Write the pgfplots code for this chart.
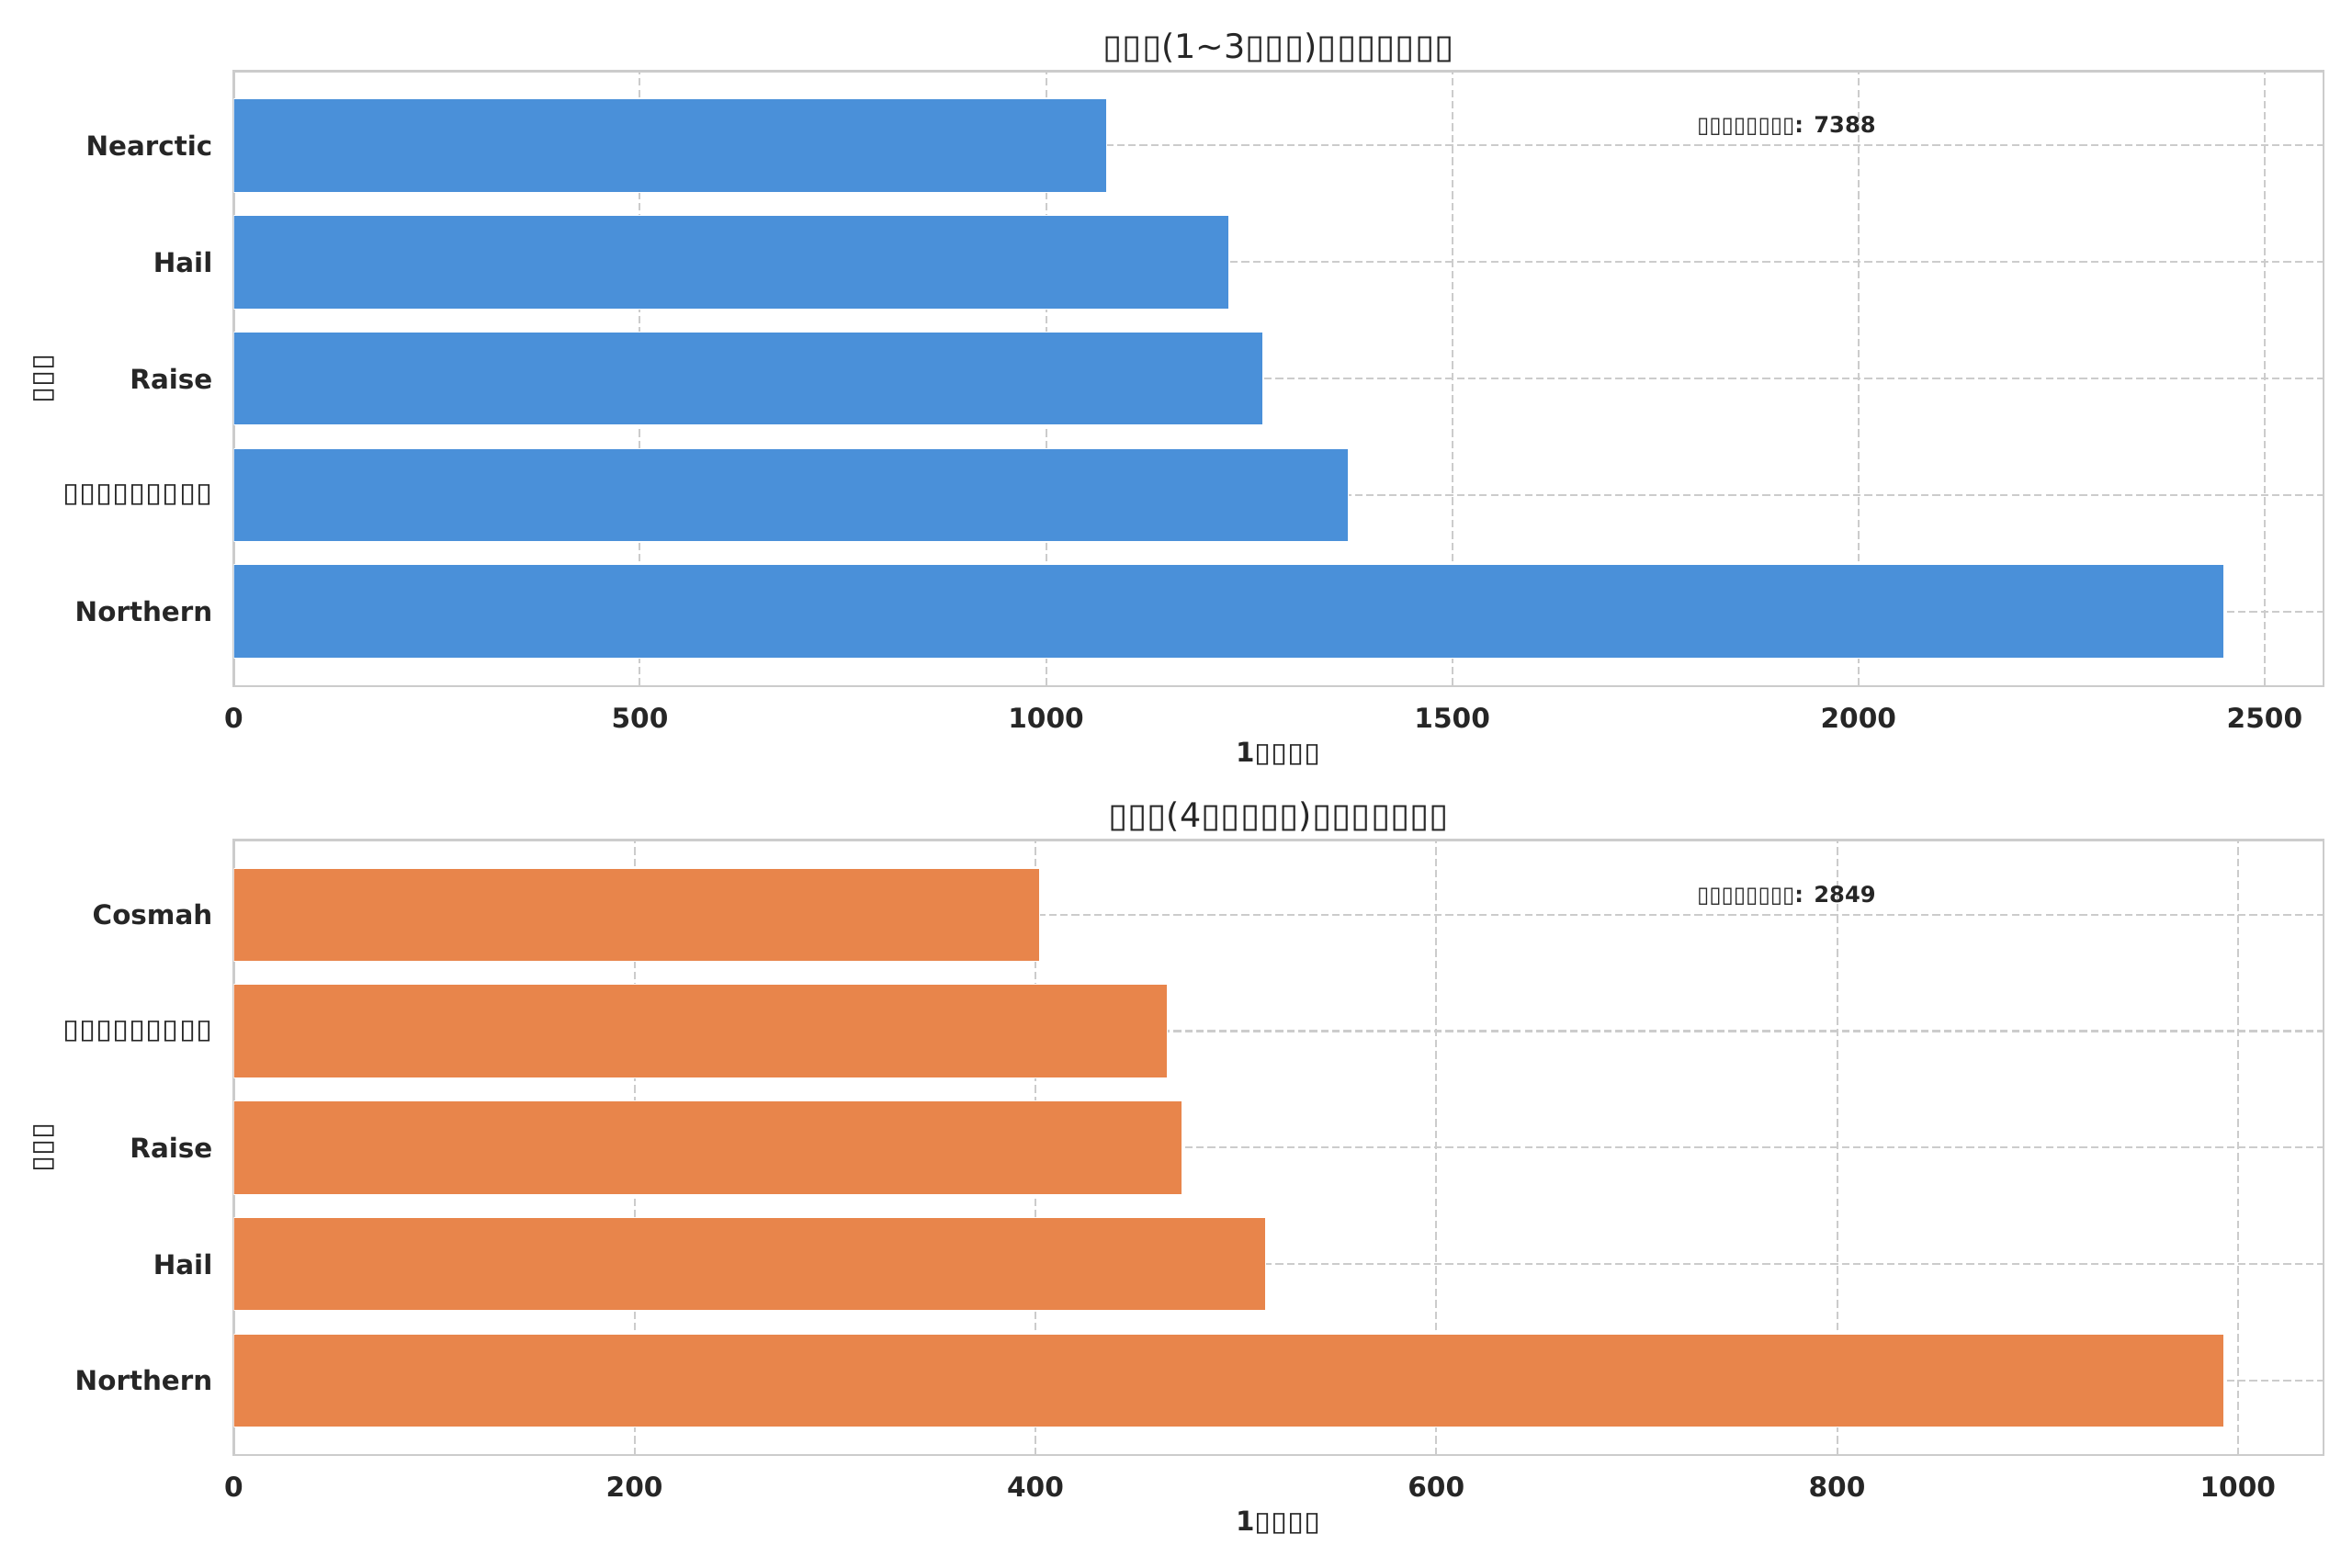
\documentclass[border=0pt]{standalone}
\usepackage{fontspec}
\setmainfont{DejaVu Sans}
\newfontfamily\tofufont{DejaVu Sans}
\newfontfamily\tofufontA[FakeStretch=1.06]{DejaVu Sans}
\newfontfamily\tofufontB[FakeStretch=1.12]{DejaVu Sans}
\usepackage{pgfplots}
\pgfplotsset{compat=1.18}
\definecolor{txt}{HTML}{262626}
\definecolor{gridc}{HTML}{CCCCCC}
\definecolor{barblue}{HTML}{4A90D9}
\definecolor{barorange}{HTML}{E8854B}
\newcommand\tf{{\tofufont\mdseries ▯}}
\newcommand\tfa{{\tofufontA\mdseries ▯}}
\newcommand\tfb{{\tofufontB\mdseries ▯}}
\newcommand\fs[1]{\fontsize{#1}{#1}\selectfont}
\pgfplotsset{
  mystyle/.style={
    xbar, scale only axis, width=959.6bp, height=282.4bp,
    ymin=-0.64, ymax=4.64, ytick={0,...,4}, xmin=0,
    bar width=0.8,
    axis line style={draw=gridc, line width=1bp},
    major tick length=0pt,
    grid=major,
    major grid style={draw=gridc, line width=0.85bp, dash pattern=on 3.5bp off 1.7bp},
    tick label style={font=\fs{12.5bp}\bfseries, text=txt},
    /pgf/number format/assume math mode=true,
    /pgf/number format/1000 sep={},
    xticklabel style={anchor=north, inner sep=0pt, yshift=-9.8bp},
    yticklabel style={anchor=east, inner sep=0pt, xshift=-9.5bp, font=\fs{12.4bp}\bfseries},
    title style={at={(axis description cs:0.5,1)}, anchor=base, yshift=0bp, font=\fs{15.4bp}, text=txt},
    xlabel style={at={(axis description cs:0.5,0)}, anchor=base, yshift=-35bp, font=\fs{12.4bp}\bfseries, text=txt},
    ylabel style={at={(axis description cs:0,0.5)}, anchor=center, yshift=87.2bp, font=\fs{12.4bp}, text=txt},
  }
}
\begin{document}
\begin{tikzpicture}
\useasboundingbox (0,0) rectangle (1080bp,720.14bp);
\begin{axis}[mystyle, at={(107.3bp,405.1bp)}, anchor=south west,
  xmax=2572.5, xtick={0,500,...,2500},
  yticklabels={Northern,\tfb\tfb\tfb\tfb\tfb\tfb\tfb\tfb\tfb,Raise,Hail,Nearctic},
  title={\tfa\tfa\tfa(1\textasciitilde3\tfa\tfa\tfa)\tfa\tfa\tfa\tfa\tfa\tfa\tfa},
  xlabel={1\tfb\tfb\tfb\tfb}, ylabel={\tfb\tfb\tfb}]
\addplot[fill=barblue, draw=white, line width=0.4bp] coordinates {(2450,0) (1372,1) (1267,2) (1225,3) (1074,4)};
\node[anchor=base west, font=\fs{10.2bp}\bfseries, text=txt, inner sep=0pt] at (axis description cs:0.7,0.899) {\tf\tf\tf\tf\tf\tf\tf\tf: 7388};
\end{axis}
\begin{axis}[mystyle, at={(107.3bp,51.9bp)}, anchor=south west,
  xmax=1042.7, xtick={0,200,...,1000},
  yticklabels={Northern,Hail,Raise,\tfb\tfb\tfb\tfb\tfb\tfb\tfb\tfb\tfb,Cosmah},
  title={\tfa\tfa\tfa(4\tfa\tfa\tfa\tfa\tfa)\tfa\tfa\tfa\tfa\tfa\tfa\tfa},
  xlabel={1\tfb\tfb\tfb\tfb}, ylabel={\tfb\tfb\tfb}]
\addplot[fill=barorange, draw=white, line width=0.4bp] coordinates {(993,0) (515,1) (473,2) (466,3) (402,4)};
\node[anchor=base west, font=\fs{10.2bp}\bfseries, text=txt, inner sep=0pt] at (axis description cs:0.7,0.899) {\tf\tf\tf\tf\tf\tf\tf\tf: 2849};
\end{axis}
\end{tikzpicture}
\end{document}
